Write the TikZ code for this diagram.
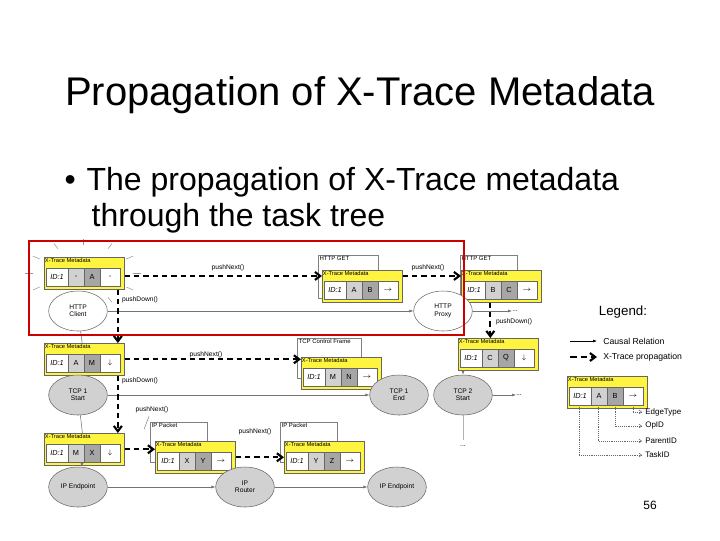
\documentclass[tikz,border=0pt]{standalone}
\usepackage{fontspec}
\setmainfont{Liberation Sans}
\usetikzlibrary{arrows.meta,calc,shapes.geometric}
\tikzset{
  ell/.style={ellipse,draw=black!60,minimum width=44pt,minimum height=30pt,inner sep=0,font=\fontsize{5}{5.5}\selectfont,align=center},
  gell/.style={ell,fill=black!18},
  well/.style={ell,fill=white},
  causal/.style={draw=black!55,line width=0.5pt,-{Latex[length=3pt]}},
  prop/.style={draw=black,line width=1.6pt,dash pattern=on 4pt off 3pt,-{Straight Barb[length=4pt,width=6pt]}},
  frame/.style={draw=black!50,fill=white,anchor=north west,inner sep=0,line width=0.5pt},
  flab/.style={font=\fontsize{4.5}{5}\selectfont,anchor=north west,inner sep=1pt},
  lbl/.style={font=\fontsize{5}{6}\selectfont,inner sep=0},
  leg/.style={font=\fontsize{6.5}{7.5}\selectfont,anchor=west,inner sep=0},
}
\newcommand\metabox[6]{%
  \node[draw=black!60,fill=yellow!75,anchor=north west,minimum width=60pt,minimum height=24pt,inner sep=0] (#1) at (#2,#3) {};
  \node[anchor=north west,inner sep=0.5pt,font=\fontsize{4.3}{5}\selectfont] at (#2,#3) {X-Trace Metadata};
  \draw[black!60,fill=white] (#2+2,#3+11) rectangle (#2+24,#3+29);
  \draw[black!60,fill=black!18] (#2+24,#3+11) rectangle (#2+40,#3+29);
  \draw[black!60,fill=black!35] (#2+40,#3+11) rectangle (#2+56,#3+29);
  \draw[black!60,fill=white] (#2+56,#3+11) rectangle (#2+76,#3+29);
  \node[font=\fontsize{5.5}{6}\itshape] at (#2+13,#3+20) {ID:1};
  \node[font=\fontsize{5.5}{6}\selectfont] at (#2+32,#3+20) {#4};
  \node[font=\fontsize{5.5}{6}\selectfont] at (#2+48,#3+20) {#5};
  \node[font=\fontsize{5.5}{6}\selectfont] at (#2+66,#3+20) {#6};
}
\begin{document}
\begin{tikzpicture}[x=0.75pt,y=-0.75pt]
\useasboundingbox (0,0) rectangle (720,540);
\fill[white] (0,0) rectangle (720,540);
\node[font=\fontsize{30}{34}\selectfont] (title) at (360,95) {Propagation of X-Trace Metadata};
\node[font=\fontsize{24}{28}\selectfont,anchor=west] (b1) at (60,182) {•\hspace{8pt}The propagation of X-Trace metadata};
\node[font=\fontsize{24}{28}\selectfont,anchor=west] (b2) at (87,218) {through the task tree};

% sunburst
\foreach \a in {0,30,...,330}{
  \draw[black!40,line width=0.4pt] ($(83,273)+(\a:50 and 28)$) -- ($(83,273)+(\a:58 and 34)$);
}
% frames
\node[frame,minimum width=45pt,minimum height=32pt] (f2) at (318,255) {};
\node[flab] at (f2.north west) {HTTP GET};
\node[frame,minimum width=43pt,minimum height=32pt] (f3) at (460,255) {};
\node[flab] at (f3.north west) {HTTP GET};
\node[frame,minimum width=48pt,minimum height=30pt] (f5) at (297,338) {};
\node[flab] at (f5.north west) {TCP Control Frame};
\node[frame,minimum width=43pt,minimum height=30pt] (f8) at (150,422) {};
\node[flab] at (f8.north west) {IP Packet};
\node[frame,minimum width=43pt,minimum height=30pt] (f9) at (280,422) {};
\node[flab] at (f9.north west) {IP Packet};

\metabox{m1}{44}{257}{-}{A}{-}
\metabox{m2}{322}{270}{A}{B}{$\rightarrow$}
\metabox{m3}{461}{270}{B}{C}{$\rightarrow$}
\metabox{m4}{44}{343}{A}{M}{$\downarrow$}
\metabox{m5}{301}{357}{M}{N}{$\rightarrow$}
\metabox{m6}{458}{338}{C}{Q}{$\downarrow$}
\metabox{m7}{44}{433}{M}{X}{$\downarrow$}
\metabox{m8}{155}{441}{X}{Y}{$\rightarrow$}
\metabox{m9}{284}{441}{Y}{Z}{$\rightarrow$}
\metabox{lm}{567}{376}{A}{B}{$\rightarrow$}

% nodes
\node[well] (hc) at (78,311) {HTTP\\Client};
\node[well] (hp) at (443,311) {HTTP\\Proxy};
\node[gell] (t1s) at (78,395) {TCP 1\\Start};
\node[gell] (t1e) at (399,395) {TCP 1\\End};
\node[gell] (t2s) at (463,395) {TCP 2\\Start};
\node[gell] (ip1) at (78,487) {IP Endpoint};
\node[gell] (ipr) at (245,487) {IP\\Router};
\node[gell] (ip2) at (397,487) {IP Endpoint};
\coordinate (d1) at (512,311);
\coordinate (d2) at (516,395);
\coordinate (d3) at (463,440);
\node[lbl,anchor=west] at (d1) {...};
\node[lbl,anchor=west] at (d2) {...};
\node[lbl] at (463,446) {...};

% causal
\draw[causal] (hc) -- (hp);
\draw[causal] (hp) -- (d1);
\draw[draw=black!55] (hc) -- (m4);
\draw[draw=black!55] (m4) -- (t1s);
\draw[causal] (t1s) -- (t1e);
\draw[draw=black!55] (t1s) -- (m7);
\draw[causal] (m7) -- (ip1);
\draw[causal] (ip1) -- (ipr);
\draw[causal] (ipr) -- (ip2);
\draw[causal] (m6.south -| t2s) -- (t2s);
\draw[causal] (t2s) -- (d2);
\draw[draw=black!30] (t2s) -- (d3);

% propagation
\draw[prop] ([yshift=-2pt]m1.east) -- ([yshift=-2pt]m1.east -| m2.west);
\draw[prop] ([yshift=-2pt]m2.east |- m1.east) -- ([yshift=-2pt]m1.east -| m3.west);
\draw[prop] ([xshift=-5pt]m1.south east) -- ([xshift=-5pt]m4.north east);
\draw[prop] ([xshift=22pt]m3.south west) -- ([xshift=22pt]m3.south west |- m6.north);
\draw[prop] (m4.east) -- (m4.east -| m5.west);
\draw[prop] ([xshift=-5pt]m4.south east) -- ([xshift=-5pt]m7.north east);
\draw[prop] (m7.east) -- (m7.east -| m8.west);
\draw[prop] (m8.east) -- (m8.east -| m9.west);

\node[lbl] at (228,268) {pushNext()};
\node[lbl] at (428,268) {pushNext()};
\node[lbl] at (140,300) {pushDown()};
\node[lbl] at (514,322) {pushDown()};
\node[lbl] at (206,355) {pushNext()};
\node[lbl] at (140,381) {pushDown()};
\node[lbl] (pn) at (152,410) {pushNext()};
\draw[black!60,line width=0.3pt] (pn.south) ++(-3,3) -- ++(-5,13);
\node[lbl] at (255,432) {pushNext()};

% red highlight
\draw[red!80!black,line width=2.2pt] (29,241) rectangle (464,335);

% legend
\node[font=\fontsize{10}{11}\selectfont] (lg) at (623,312) {Legend:};
\coordinate (l1a) at (570,341); \coordinate (l1b) at (597,341);
\draw[black,line width=0.5pt,-{Latex[length=3pt]}] (l1a) -- (l1b);
\node[leg] at (603,341) {Causal Relation};
\coordinate (l2a) at (570,357); \coordinate (l2b) at (597,357);
\draw[black,line width=1.6pt,dash pattern=on 5pt off 3pt,-{Straight Barb[length=4pt,width=6pt]}] (l2a) -- (l2b);
\node[leg] at (603,357) {X-Trace propagation};
\tikzset{ldot/.style={draw=black!60,densely dotted,line width=0.4pt,-{Straight Barb[length=2pt,width=3pt]}}}
\draw[ldot] (633,405) |- (642,412); \node[leg,font=\fontsize{6}{7}\selectfont] at (645,412) {EdgeType};
\draw[ldot] (615,405) |- (642,426); \node[leg,font=\fontsize{6}{7}\selectfont] at (645,426) {OpID};
\draw[ldot] (598,405) |- (642,441); \node[leg,font=\fontsize{6}{7}\selectfont] at (645,441) {ParentID};
\draw[ldot] (579,405) |- (642,455); \node[leg,font=\fontsize{6}{7}\selectfont] at (645,455) {TaskID};

\node[font=\fontsize{9}{10}\selectfont] (pg) at (650,505) {56};
\end{tikzpicture}
\end{document}
